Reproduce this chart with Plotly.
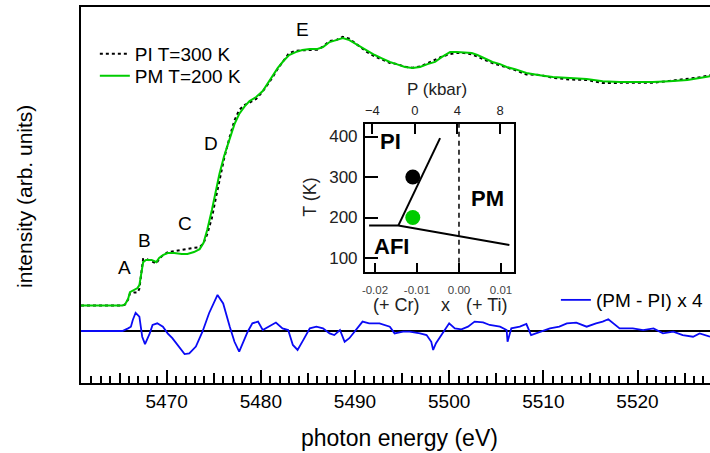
import plotly.graph_objects as go

# ---------------- data ----------------
ENERGY = [5460.9, 5465.3, 5465.6, 5465.9, 5466.1, 5466.5, 5466.9, 5467.1, 5467.3, 5467.5,
          5467.8, 5468.4, 5468.7, 5468.9, 5469.2, 5469.6, 5470.1, 5470.8, 5471.6, 5472.2,
          5472.9, 5473.5, 5473.9, 5474.3, 5474.8, 5475.2, 5475.6, 5476.1, 5476.7, 5477.2,
          5477.7, 5478.3, 5478.8, 5479.5, 5480.2, 5480.7, 5481.2, 5481.8, 5482.4, 5483.0,
          5483.7, 5484.4, 5485.2, 5486.0, 5486.6, 5487.3, 5488.0, 5488.7, 5489.4, 5490.3,
          5491.2, 5492.1, 5492.8, 5493.7, 5494.4, 5495.3, 5496.1, 5496.9, 5497.7, 5498.5,
          5499.2, 5500.1, 5500.8, 5501.6, 5502.4, 5503.0, 5503.8, 5504.6, 5505.4, 5506.1,
          5507.0, 5508.2, 5509.6, 5511.0, 5512.8, 5514.6, 5516.3, 5518.1, 5519.9, 5521.6,
          5523.4, 5525.3, 5526.6, 5527.7]

PM_200K = [0.000, 0.000, 0.006, 0.027, 0.056, 0.065, 0.073, 0.085, 0.127, 0.181,
           0.190, 0.190, 0.185, 0.181, 0.198, 0.210, 0.219, 0.219, 0.215, 0.215,
           0.223, 0.235, 0.260, 0.315, 0.398, 0.481, 0.548, 0.623, 0.698, 0.756,
           0.798, 0.831, 0.852, 0.869, 0.894, 0.923, 0.956, 0.990, 1.019, 1.044,
           1.056, 1.065, 1.069, 1.069, 1.077, 1.098, 1.106, 1.115, 1.106, 1.085,
           1.065, 1.044, 1.031, 1.015, 1.006, 0.994, 0.990, 0.994, 1.006, 1.015,
           1.035, 1.056, 1.056, 1.054, 1.052, 1.044, 1.031, 1.015, 1.006, 0.994,
           0.985, 0.969, 0.960, 0.952, 0.948, 0.944, 0.935, 0.931, 0.931, 0.931,
           0.935, 0.940, 0.948, 0.956]

PI_300K = [0.000, 0.000, 0.005, 0.025, 0.050, 0.054, 0.054, 0.070, 0.133, 0.194,
           0.195, 0.184, 0.177, 0.175, 0.194, 0.210, 0.222, 0.227, 0.232, 0.238,
           0.241, 0.243, 0.259, 0.297, 0.365, 0.444, 0.518, 0.613, 0.704, 0.772,
           0.815, 0.836, 0.846, 0.861, 0.892, 0.919, 0.948, 0.987, 1.018, 1.052,
           1.062, 1.063, 1.065, 1.066, 1.079, 1.102, 1.106, 1.120, 1.112, 1.085,
           1.058, 1.038, 1.025, 1.011, 1.007, 0.995, 0.991, 0.996, 1.010, 1.026,
           1.037, 1.048, 1.053, 1.052, 1.047, 1.037, 1.024, 1.010, 1.001, 0.993,
           0.981, 0.963, 0.961, 0.949, 0.942, 0.940, 0.927, 0.928, 0.928, 0.928,
           0.936, 0.944, 0.951, 0.960]

DIFF_ENERGY = [5460.9, 5465.3, 5465.9, 5466.2, 5466.4, 5466.7, 5467.1, 5467.4, 5467.7, 5468.2,
               5468.5, 5469.0, 5469.6, 5470.1, 5470.6, 5471.3, 5471.9, 5472.4, 5473.1, 5473.8,
               5474.5, 5475.4, 5476.0, 5476.7, 5477.2, 5477.7, 5478.1, 5478.6, 5479.1, 5479.7,
               5480.2, 5480.9, 5481.6, 5482.3, 5482.9, 5483.4, 5483.9, 5484.5, 5485.2, 5485.9,
               5486.6, 5487.3, 5487.8, 5488.4, 5488.9, 5489.4, 5490.1, 5490.8, 5491.5, 5492.6,
               5493.7, 5494.2, 5495.1, 5495.8, 5496.9, 5497.6, 5498.1, 5498.3, 5498.6, 5499.3,
               5500.0, 5500.6, 5501.3, 5502.0, 5502.7, 5503.6, 5504.3, 5505.4, 5506.1, 5506.2,
               5506.6, 5507.5, 5508.2, 5508.7, 5509.6, 5510.7, 5511.7, 5512.5, 5513.5, 5514.6,
               5515.6, 5516.3, 5516.9, 5517.4, 5518.1, 5519.5, 5520.6, 5521.7, 5522.7, 5523.8,
               5524.8, 5525.9, 5526.6, 5527.7]

DIFF_X4 = [0.000, 0.000, 0.011, 0.018, 0.046, 0.076, 0.060, -0.024, -0.055, -0.010,
           0.025, 0.032, 0.018, -0.010, -0.030, -0.065, -0.096, -0.093, -0.065, -0.003,
           0.074, 0.150, 0.115, 0.018, -0.045, -0.086, -0.051, -0.003, 0.032, 0.039,
           0.004, 0.018, 0.035, 0.011, 0.004, -0.058, -0.079, -0.038, 0.011, 0.018,
           0.011, -0.010, -0.017, 0.004, -0.045, -0.030, 0.004, 0.039, 0.032, 0.032,
           0.018, -0.010, -0.003, -0.003, -0.010, -0.017, -0.045, -0.079, -0.051, -0.010,
           0.032, 0.011, 0.007, 0.018, 0.039, 0.036, 0.025, 0.018, 0.004, -0.045,
           0.011, 0.018, 0.029, -0.017, -0.003, 0.011, 0.018, 0.032, 0.035, 0.018,
           0.032, 0.039, 0.049, 0.032, 0.011, 0.011, 0.004, 0.011, -0.010, -0.003,
           -0.017, -0.024, -0.010, -0.024]

SPECTRUM_OFFSET = 0.106

PEAK_NAMES = ["A", "B", "C", "D", "E"]
PEAK_ENERGY = [5465.5, 5467.6, 5471.9, 5474.75, 5484.4]
PEAK_LEVEL = [0.2625, 0.379, 0.45, 0.783, 1.258]

# inset phase diagram (doping x vs T)
AFI_X = [-0.0214, -0.01445, 0.0120]
AFI_T = [180.0, 180.0, 132.0]
PIPM_X = [-0.01445, -0.0045]
PIPM_T = [180.0, 396.0]
SAMPLE_X = [-0.0110, -0.0110]
SAMPLE_T = [300, 200]
INSET_T_TICKS = [100, 200, 300, 400]
INSET_X_TICKS = [-0.02, -0.01, 0.00, 0.01]
INSET_X_TICKTEXT = ["-0.02", "-0.01", "0.00", "0.01"]
INSET_P_TICKS = [-4, 0, 4, 8]
PHASE_NAMES = ["PI", "PM", "AFI"]
PHASE_X = [-0.0164, 0.0069, -0.0160]
PHASE_T = [387.0, 247.0, 128.0]
DOPING_NOTES = ["(+ Cr)", "x", "(+ Ti)"]
DOPING_NOTE_X = [-0.01483, -0.00333, 0.0066]

# ---------------- figure ----------------
FONT = "Liberation Sans, Arial, Helvetica, sans-serif"
GREEN = "rgb(0,204,0)"
BLUE = "rgb(10,10,245)"

fig = go.Figure()

fig.add_trace(go.Scatter(
    x=ENERGY, y=[v + SPECTRUM_OFFSET for v in PI_300K], mode="lines",
    name="PI T=300 K", line=dict(color="black", width=2, dash="3px,3px"),
    legend="legend"))
fig.add_trace(go.Scatter(
    x=ENERGY, y=[v + SPECTRUM_OFFSET for v in PM_200K], mode="lines",
    name="PM T=200 K", line=dict(color=GREEN, width=2),
    legend="legend3"))
fig.add_trace(go.Scatter(
    x=DIFF_ENERGY, y=DIFF_X4, mode="lines",
    name="(PM - PI) x 4", line=dict(color=BLUE, width=1.8),
    legend="legend2"))

fig.add_hline(y=0, line=dict(color="black", width=2), layer="below")

# helper (empty) traces so that the overlaid tick-only axes get drawn
fig.add_trace(go.Scatter(x=[None], y=[None], xaxis="x4", yaxis="y",
                         showlegend=False, hoverinfo="skip"))
fig.add_trace(go.Scatter(x=[None], y=[None], xaxis="x3", yaxis="y2",
                         showlegend=False, hoverinfo="skip"))

# inset traces
fig.add_trace(go.Scatter(x=AFI_X, y=AFI_T, mode="lines", xaxis="x2", yaxis="y2",
                         line=dict(color="black", width=2), showlegend=False))
fig.add_trace(go.Scatter(x=PIPM_X, y=PIPM_T, mode="lines", xaxis="x2", yaxis="y2",
                         line=dict(color="black", width=2), showlegend=False))
fig.add_trace(go.Scatter(x=SAMPLE_X, y=SAMPLE_T, mode="markers", xaxis="x2", yaxis="y2",
                         marker=dict(color=["black", GREEN], size=15, line=dict(width=0)),
                         showlegend=False))
fig.add_shape(type="line", xref="x2", yref="y2 domain", x0=0, x1=0, y0=0, y1=1,
              line=dict(color="black", width=1.5, dash="5px,4px"))

annotations = []
for name, e, lv in zip(PEAK_NAMES, PEAK_ENERGY, PEAK_LEVEL):
    annotations.append(dict(x=e, y=lv, xref="x", yref="y", text=name, showarrow=False,
                            xanchor="center", yanchor="middle",
                            font=dict(size=19, color="black", family=FONT)))
for name, px, pt in zip(PHASE_NAMES, PHASE_X, PHASE_T):
    annotations.append(dict(x=px, y=pt, xref="x2", yref="y2", text="<b>%s</b>" % name,
                            showarrow=False, xanchor="center", yanchor="middle",
                            font=dict(size=22, color="black", family=FONT)))
for note, nx in zip(DOPING_NOTES, DOPING_NOTE_X):
    annotations.append(dict(x=nx, y=0.2074, xref="x2", yref="paper", text=note,
                            showarrow=False, xanchor="center", yanchor="middle",
                            font=dict(size=18, color="#222", family=FONT)))

annotations += [
    dict(x=-0.089, y=0.495, xref="paper", yref="paper", text="intensity (arb. units)",
         textangle=-90, showarrow=False, xanchor="center", yanchor="middle",
         font=dict(size=21, color="black", family=FONT)),
    dict(x=0.507, y=-0.146, xref="paper", yref="paper", text="photon energy (eV)",
         showarrow=False, xanchor="center", yanchor="middle",
         font=dict(size=23, color="black", family=FONT)),
    dict(x=0.364, y=0.495, xref="paper", yref="paper", text="T (K)", textangle=-90,
         showarrow=False, xanchor="center", yanchor="middle",
         font=dict(size=18, color="#222", family=FONT)),
    dict(x=0.566, y=0.780, xref="paper", yref="paper", text="P (kbar)",
         showarrow=False, xanchor="center", yanchor="middle",
         font=dict(size=17, color="#222", family=FONT)),
]

INSET_DOMAIN_X = [0.4515, 0.6884]
INSET_DOMAIN_Y = [0.2960, 0.6888]
LEGEND_FONT = dict(size=19, color="black", family=FONT)

fig.update_layout(
    width=710, height=453, autosize=False,
    margin=dict(l=81, r=0, t=7, b=70),
    paper_bgcolor="white", plot_bgcolor="white",
    font=dict(family=FONT, color="black"),
    xaxis=dict(range=[5460.9, 5527.7], showgrid=False, zeroline=False,
               showline=True, linecolor="black", linewidth=2, mirror=True,
               ticks="inside", tick0=5460, dtick=10, ticklen=13, tickwidth=2, tickcolor="black",
               ticklabelstandoff=0,
               tickfont=dict(size=19, color="black", family=FONT),
               minor=dict(ticks="inside", tick0=5460, dtick=1, ticklen=7, tickwidth=1.5,
                          tickcolor="black", showgrid=False)),
    xaxis4=dict(overlaying="x", anchor="y", side="bottom", range=[5460.9, 5527.7],
                showgrid=False, zeroline=False, showline=False, showticklabels=False,
                ticks="inside", tick0=5460, dtick=5, ticklen=10, tickwidth=1.5,
                tickcolor="black"),
    yaxis=dict(range=[-0.2167, 1.35], showgrid=False, zeroline=False,
               showline=True, linecolor="black", linewidth=2, mirror=False,
               ticks="", showticklabels=False),
    xaxis2=dict(domain=INSET_DOMAIN_X, anchor="y2", range=[-0.02238, 0.0131],
                showgrid=False, zeroline=False, showline=True, linecolor="black",
                linewidth=2, mirror=True, ticks="inside", ticklen=9, tickwidth=1.5,
                tickcolor="black", tickvals=INSET_X_TICKS, ticktext=INSET_X_TICKTEXT,
                ticklabelstandoff=6,
                tickfont=dict(size=11.5, color="#444", family=FONT)),
    xaxis3=dict(overlaying="x2", anchor="y2", side="top", range=[-4.69, 9.31],
                showgrid=False, zeroline=False, showline=False,
                ticks="inside", ticklen=10, tickwidth=1.5, tickcolor="black",
                tickvals=INSET_P_TICKS, ticklabelstandoff=5,
                tickfont=dict(size=13, color="#222", family=FONT)),
    yaxis2=dict(domain=INSET_DOMAIN_Y, anchor="x2", range=[66.2, 430.9],
                showgrid=False, zeroline=False, showline=True, linecolor="black",
                linewidth=2, mirror=True, ticks="inside", ticklen=13, tickwidth=1.5,
                tickcolor="black", tickvals=INSET_T_TICKS, ticklabelstandoff=2,
                tickfont=dict(size=17, color="#222", family=FONT)),
    legend=dict(x=0.022, y=0.875, xanchor="left", yanchor="middle",
                bgcolor="rgba(0,0,0,0)", borderwidth=0, font=LEGEND_FONT),
    legend3=dict(x=0.022, y=0.8165, xanchor="left", yanchor="middle",
                 bgcolor="rgba(0,0,0,0)", borderwidth=0, font=LEGEND_FONT),
    legend2=dict(x=0.755, y=0.2207, xanchor="left", yanchor="middle",
                 bgcolor="rgba(0,0,0,0)", borderwidth=0, font=LEGEND_FONT),
    annotations=annotations,
    showlegend=True,
)

fig.write_html("out.html", config={"displayModeBar": False},
               post_script="document.body.style.margin='0';document.body.style.overflow='hidden';")
